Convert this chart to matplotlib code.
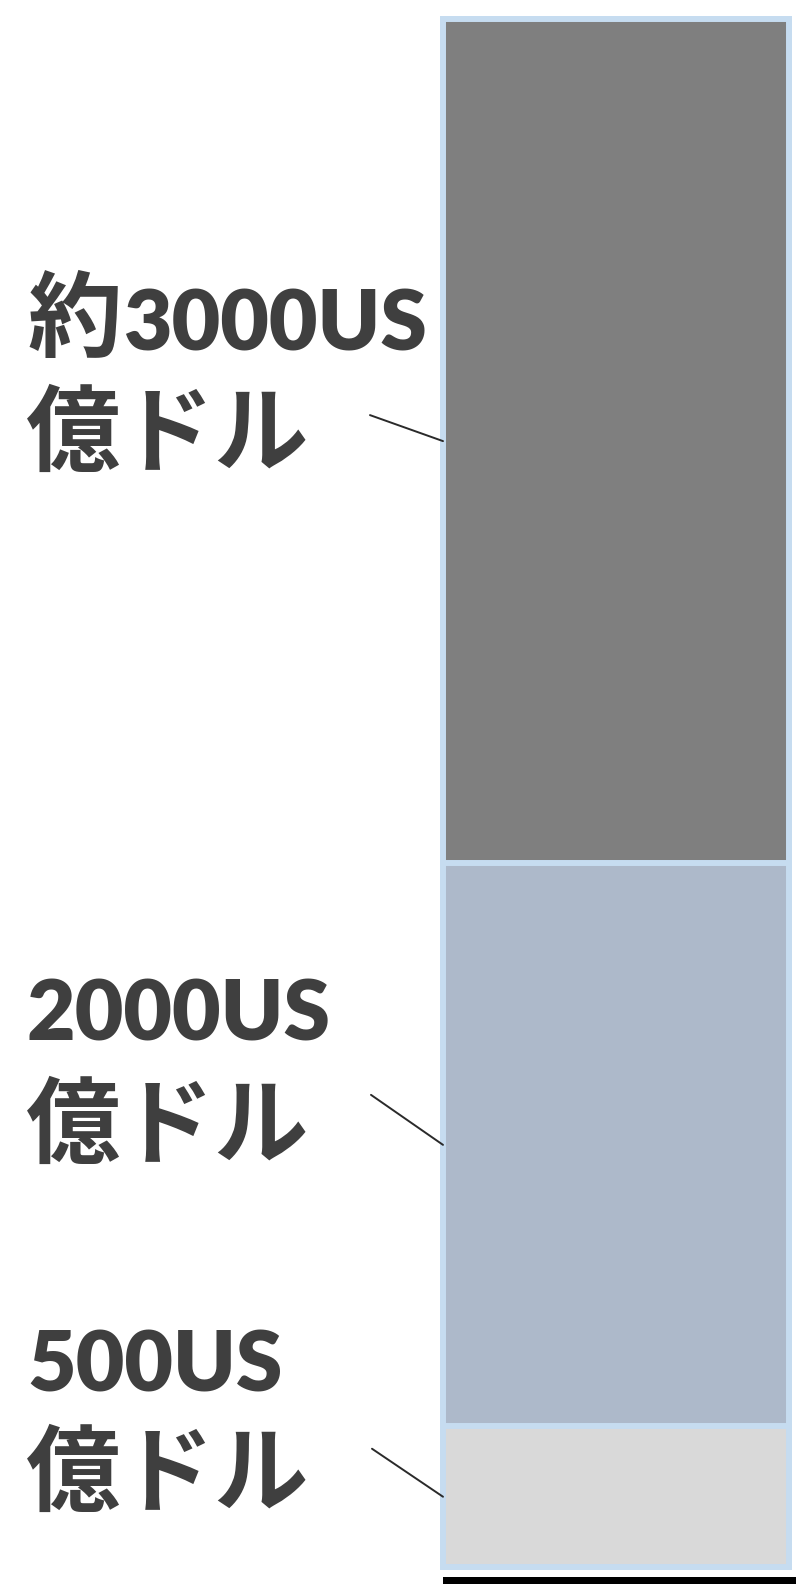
import matplotlib
matplotlib.use("Agg")
import matplotlib.pyplot as plt
import numpy as np

plt.rcParams["font.family"] = ["Noto Sans CJK JP", "DejaVu Sans"]

# stacked segments, bottom -> top (US$ 100M units)
values = [500, 2000, 3000]
prefixes = ["", "", "約"]
amounts = ["500US", "2000US", "3000US"]
unit = "億ドル"
colors = ["#D9D9D9", "#ADB9CA", "#7F7F7F"]
EDGE = "#C6DCF0"
TXT = "#3F3F3F"

fig = plt.figure(figsize=(7.96, 15.84), dpi=100)
ax = fig.add_axes([0, 0, 1, 1])
ax.set_xlim(-1.78, 0.52)
ax.set_ylim(-60, 5567)
ax.axis("off")

bottoms = np.concatenate([[0], np.cumsum(values)[:-1]])
for v, b, c in zip(values, bottoms, colors):
    ax.bar(0, v, width=1.0, bottom=b, color=c, edgecolor=EDGE, linewidth=4.3)

# label layout, pixel offsets from the segment middle at the bar's left edge
line1_dy = [105, 104, 91]
line2_dy = [-7, -11, -23]
lead_off = [(-71, 48), (-72, 50), (-73, 26)]
latin = ["Lato", "Noto Sans CJK JP", "DejaVu Sans"]
for v, b, pre, amt, d1, d2, off in zip(values, bottoms, prefixes, amounts,
                                       line1_dy, line2_dy, lead_off):
    mid = b + v / 2
    x_num = -416
    if pre:
        ax.annotate(pre, xy=(-0.5, mid), xytext=(-416, d1),
                    textcoords="offset pixels", fontsize=68, fontweight="bold",
                    color=TXT, ha="left", va="baseline")
        x_num = -320
    ax.annotate(amt, xy=(-0.5, mid), xytext=(x_num, d1),
                textcoords="offset pixels", fontsize=60.5, fontweight="heavy",
                color=TXT, ha="left", va="baseline", family=latin)
    ax.annotate(unit, xy=(-0.5, mid), xytext=(-417, d2),
                textcoords="offset pixels", fontsize=68, fontweight="bold",
                color=TXT, ha="left", va="baseline")
    ax.annotate("", xy=(-0.5, mid), xytext=off, textcoords="offset pixels",
                arrowprops=dict(arrowstyle="-", color="#2A2A2A", lw=1.4,
                                shrinkA=0, shrinkB=0))

# cut-off baseline of the neighbouring element at the bottom edge
ax.axhspan(-60, -35, xmin=0.557, xmax=1.0, color="black", lw=0)

fig.savefig("out.png", dpi=100)
